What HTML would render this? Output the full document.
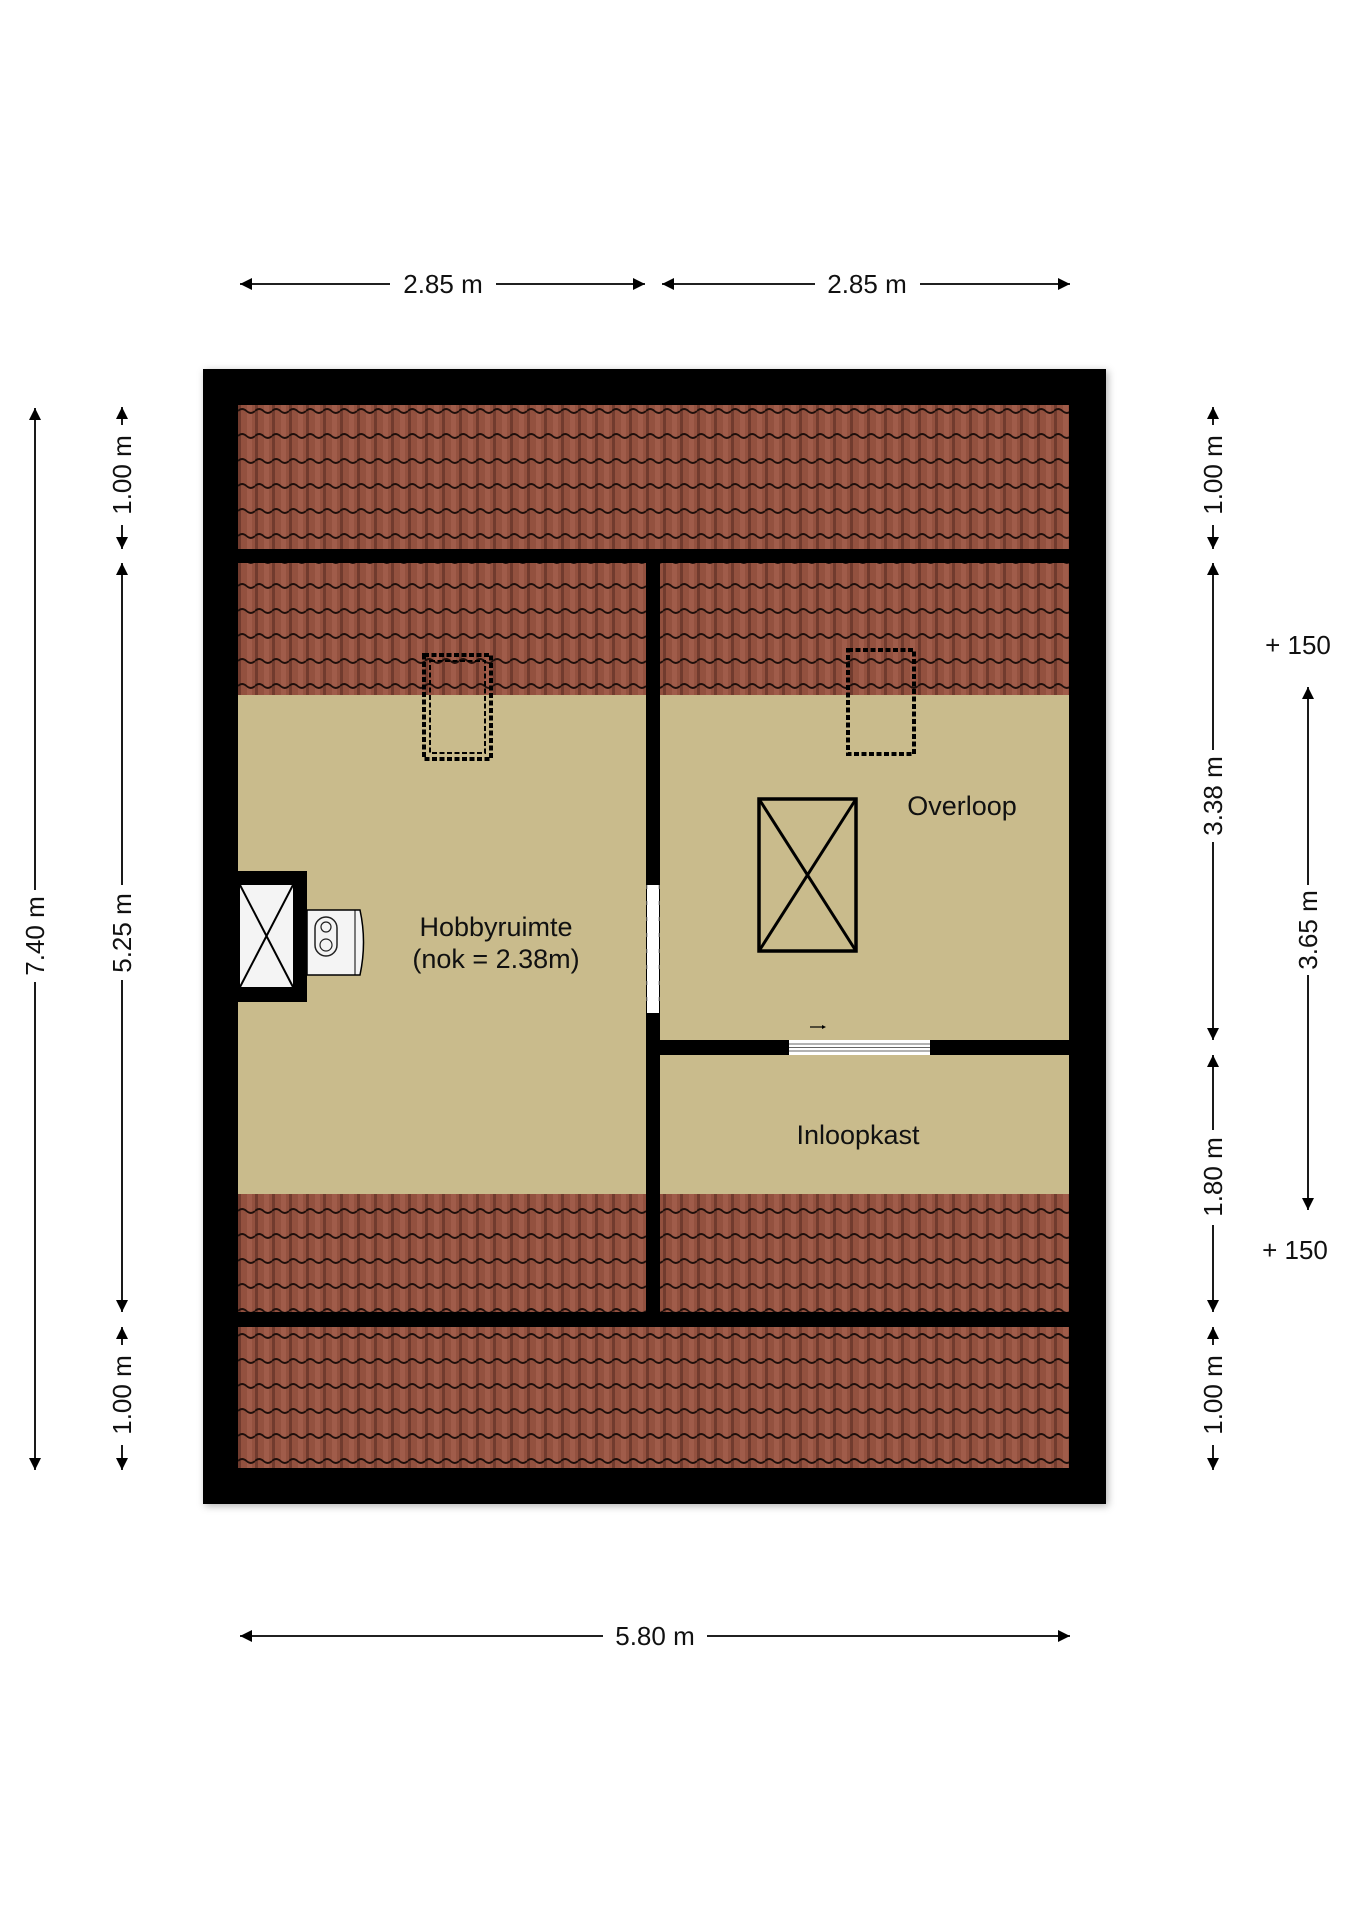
<!DOCTYPE html>
<html><head><meta charset="utf-8"><style>
html,body{margin:0;padding:0;background:#fff}
svg{display:block}
text{font-family:"Liberation Sans",Arial,sans-serif;fill:#111}
</style></head><body>
<svg width="1358" height="1920" viewBox="0 0 1358 1920" xmlns="http://www.w3.org/2000/svg">
<defs>
<pattern id="tile" width="17" height="25" patternUnits="userSpaceOnUse" x="238" y="405">
<rect width="17" height="25" fill="#93513f"/>
<rect x="0" y="0" width="3" height="25" fill="#713b2e"/>
<rect x="9" y="0" width="5" height="25" fill="#a05c4a"/>
<path d="M0 6 Q4 2 8.5 6 Q13 10 17 6" stroke="#1e0f0b" stroke-width="1.8" fill="none"/>
</pattern>
<marker id="ah" viewBox="0 0 10 10" refX="10" refY="5" markerWidth="16" markerHeight="12" markerUnits="userSpaceOnUse" orient="auto-start-reverse"><path d="M0 0L10 5L0 10z" fill="#000"/></marker>
<filter id="sh" x="-5%" y="-5%" width="110%" height="110%"><feDropShadow dx="2" dy="2" stdDeviation="4" flood-opacity="0.3"/></filter>
</defs>

<rect x="203" y="369" width="903" height="1135" fill="#000" filter="url(#sh)"/>
<rect x="238" y="405" width="831" height="1063" fill="url(#tile)"/>
<rect x="238" y="695" width="408" height="499" fill="#c9bb8c"/>
<rect x="660" y="695" width="409" height="499" fill="#c9bb8c"/>
<rect x="238" y="549" width="831" height="14" fill="#000"/>
<rect x="646" y="549" width="14" height="778" fill="#000"/>
<rect x="238" y="1312" width="831" height="15" fill="#000"/>
<rect x="660" y="1040" width="409" height="15" fill="#000"/>
<rect x="789" y="1040" width="141" height="15" fill="#fff"/>
<g stroke="#666" stroke-width="1"><line x1="789" y1="1044" x2="930" y2="1044"/><line x1="789" y1="1047.5" x2="930" y2="1047.5"/><line x1="789" y1="1051" x2="930" y2="1051"/></g>
<line x1="810" y1="1027" x2="822" y2="1027" stroke="#000" stroke-width="1.2"/><path d="M822 1025L826 1027L822 1029z"/>
<rect x="647" y="885" width="12" height="128" fill="#fff"/>
<g stroke="#999" stroke-width="1" stroke-dasharray="4 12"><line x1="647" y1="885" x2="647" y2="1013"/><line x1="659" y1="885" x2="659" y2="1013"/></g>
<rect x="238" y="871" width="69" height="131" fill="#000"/>
<rect x="240" y="885" width="53" height="102" fill="#f4f4f4"/>
<g stroke="#000" stroke-width="2"><line x1="240" y1="885" x2="293" y2="987"/><line x1="293" y1="885" x2="240" y2="987"/></g>
<path d="M307 910 H360 Q367 942 360 975 H307 Z" fill="#f4f4f4" stroke="#000" stroke-width="1.5"/>
<line x1="355" y1="910" x2="355" y2="975" stroke="#000" stroke-width="1"/>
<rect x="315" y="917" width="22" height="39" rx="11" fill="none" stroke="#222" stroke-width="1.5"/>
<circle cx="326" cy="927" r="5" fill="none" stroke="#222" stroke-width="1.2"/>
<circle cx="326" cy="945" r="6" fill="none" stroke="#222" stroke-width="1.2"/>
<rect x="424" y="655" width="67" height="104" fill="none" stroke="#000" stroke-width="4" stroke-dasharray="5 2.5"/>
<rect x="430" y="661" width="55" height="92" fill="none" stroke="#000" stroke-width="2" stroke-dasharray="5 2.5"/>
<rect x="848" y="650" width="66" height="104" fill="none" stroke="#000" stroke-width="4" stroke-dasharray="5 2.5"/>
<rect x="759" y="799" width="97" height="152" fill="none" stroke="#000" stroke-width="3.5"/>
<g stroke="#000" stroke-width="3"><line x1="759" y1="799" x2="856" y2="951"/><line x1="856" y1="799" x2="759" y2="951"/></g>

<text x="496" y="936" font-size="27" text-anchor="middle">Hobbyruimte</text>
<text x="496" y="968" font-size="27" text-anchor="middle">(nok = 2.38m)</text>
<text x="962" y="815" font-size="27" text-anchor="middle">Overloop</text>
<text x="858" y="1144" font-size="27" text-anchor="middle">Inloopkast</text>

<g stroke="#000" stroke-width="1.8" fill="none">
<line x1="240" y1="284" x2="390" y2="284" marker-start="url(#ah)"/>
<line x1="496" y1="284" x2="645" y2="284" marker-end="url(#ah)"/>
<line x1="662" y1="284" x2="815" y2="284" marker-start="url(#ah)"/>
<line x1="920" y1="284" x2="1070" y2="284" marker-end="url(#ah)"/>
<line x1="240" y1="1636" x2="603" y2="1636" marker-start="url(#ah)"/>
<line x1="707" y1="1636" x2="1070" y2="1636" marker-end="url(#ah)"/>
<line x1="35" y1="408" x2="35" y2="890" marker-start="url(#ah)"/>
<line x1="35" y1="982" x2="35" y2="1470" marker-end="url(#ah)"/>
<line x1="122" y1="407" x2="122" y2="425" marker-start="url(#ah)"/>
<line x1="122" y1="525" x2="122" y2="549" marker-end="url(#ah)"/>
<line x1="122" y1="563" x2="122" y2="885" marker-start="url(#ah)"/>
<line x1="122" y1="980" x2="122" y2="1312" marker-end="url(#ah)"/>
<line x1="122" y1="1327" x2="122" y2="1345" marker-start="url(#ah)"/>
<line x1="122" y1="1445" x2="122" y2="1470" marker-end="url(#ah)"/>
<line x1="1213" y1="407" x2="1213" y2="425" marker-start="url(#ah)"/>
<line x1="1213" y1="525" x2="1213" y2="549" marker-end="url(#ah)"/>
<line x1="1213" y1="563" x2="1213" y2="750" marker-start="url(#ah)"/>
<line x1="1213" y1="842" x2="1213" y2="1040" marker-end="url(#ah)"/>
<line x1="1213" y1="1055" x2="1213" y2="1130" marker-start="url(#ah)"/>
<line x1="1213" y1="1225" x2="1213" y2="1312" marker-end="url(#ah)"/>
<line x1="1213" y1="1327" x2="1213" y2="1345" marker-start="url(#ah)"/>
<line x1="1213" y1="1445" x2="1213" y2="1470" marker-end="url(#ah)"/>
<line x1="1308" y1="687" x2="1308" y2="885" marker-start="url(#ah)"/>
<line x1="1308" y1="975" x2="1308" y2="1210" marker-end="url(#ah)"/>
</g>
<g font-size="26">
<text x="443" y="293" text-anchor="middle">2.85 m</text>
<text x="867" y="293" text-anchor="middle">2.85 m</text>
<text x="655" y="1645" text-anchor="middle">5.80 m</text>
<text transform="translate(44 936) rotate(-90)" text-anchor="middle">7.40 m</text>
<text transform="translate(131 475) rotate(-90)" text-anchor="middle">1.00 m</text>
<text transform="translate(131 933) rotate(-90)" text-anchor="middle">5.25 m</text>
<text transform="translate(131 1395) rotate(-90)" text-anchor="middle">1.00 m</text>
<text transform="translate(1222 475) rotate(-90)" text-anchor="middle">1.00 m</text>
<text transform="translate(1222 796) rotate(-90)" text-anchor="middle">3.38 m</text>
<text transform="translate(1222 1177) rotate(-90)" text-anchor="middle">1.80 m</text>
<text transform="translate(1222 1395) rotate(-90)" text-anchor="middle">1.00 m</text>
<text transform="translate(1317 930) rotate(-90)" text-anchor="middle">3.65 m</text>
<text x="1298" y="654" text-anchor="middle">+ 150</text>
<text x="1295" y="1259" text-anchor="middle">+ 150</text>
</g>
</svg>
</body></html>
